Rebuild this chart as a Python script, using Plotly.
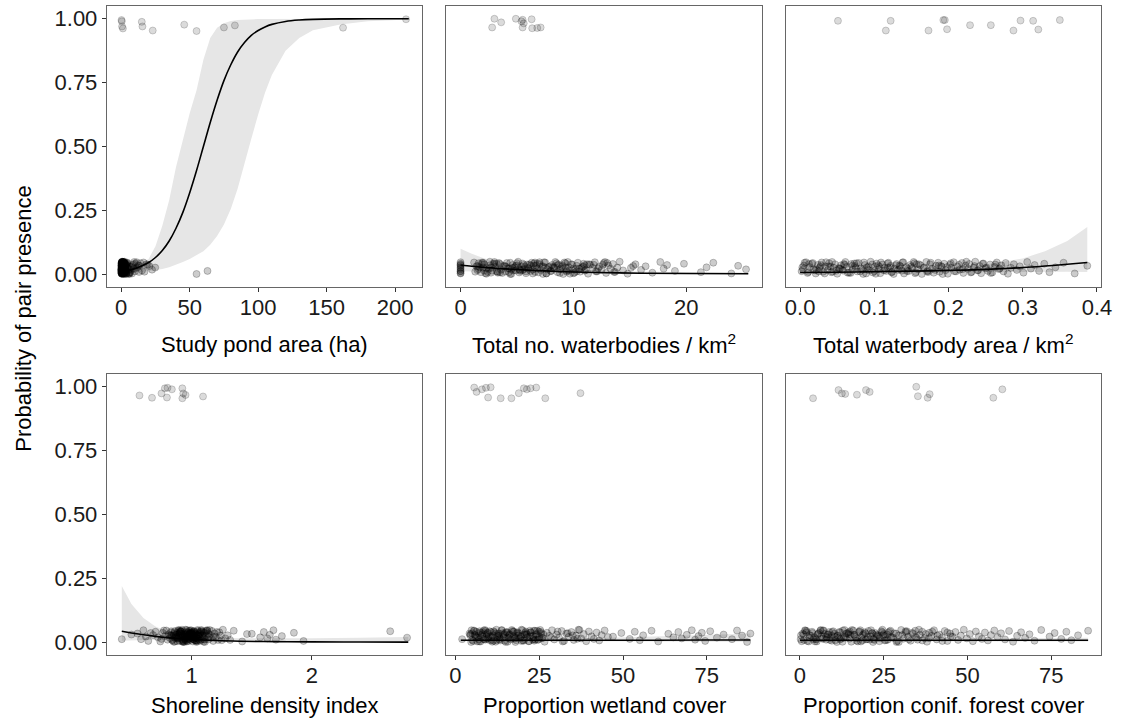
import plotly.graph_objects as go

FONT = "Liberation Sans, Arial, sans-serif"

# ---------------- data ----------------
# vertical jitter of absent (0) observations
ABS_Y = [
    0.012, 0.034, 0.047, 0.005, 0.028, 0.041, 0.019, 0.003, 0.037, 0.024,
    0.046, 0.010, 0.031, 0.016, 0.043, 0.008, 0.026, 0.039, 0.002, 0.021,
    0.035, 0.014, 0.048, 0.029, 0.006, 0.040, 0.018, 0.032, 0.011, 0.044,
    0.023, 0.001, 0.036, 0.027, 0.015, 0.049, 0.007, 0.030, 0.042, 0.020,
    0.004, 0.038, 0.025, 0.013, 0.045, 0.033, 0.009, 0.022, 0.040, 0.017,
    0.031, 0.046, 0.003, 0.028, 0.012, 0.036, 0.024, 0.043, 0.008, 0.019,
    0.035, 0.001, 0.027, 0.048, 0.014, 0.039, 0.022, 0.006, 0.033, 0.045,
    0.010, 0.029, 0.041, 0.016, 0.002, 0.037, 0.025, 0.047, 0.011, 0.030,
    0.018, 0.044, 0.005, 0.034, 0.021, 0.040, 0.009, 0.026, 0.049, 0.015,
    0.032, 0.004, 0.042, 0.023, 0.013, 0.038, 0.007, 0.028, 0.046, 0.020,
    0.035, 0.011, 0.044, 0.002, 0.025, 0.039, 0.017, 0.031, 0.006, 0.048,
    0.022, 0.036, 0.013, 0.041, 0.008, 0.027, 0.045, 0.003, 0.033, 0.019,
    0.040, 0.015, 0.029, 0.047, 0.010, 0.024, 0.037, 0.005, 0.043, 0.018,
    0.030, 0.012, 0.046, 0.026, 0.001, 0.034, 0.021, 0.039, 0.009, 0.032,
]
ABS_Y2 = [
    0.027, 0.009, 0.044, 0.018, 0.036, 0.003, 0.031, 0.048, 0.014, 0.022,
    0.040, 0.006, 0.033, 0.025, 0.011, 0.046, 0.019, 0.038, 0.002, 0.029,
    0.015, 0.042, 0.008, 0.035, 0.021, 0.047, 0.013, 0.030, 0.004, 0.039,
    0.024, 0.010, 0.045, 0.017, 0.034, 0.001, 0.028, 0.043, 0.012, 0.037,
    0.020, 0.049, 0.007, 0.032, 0.016, 0.041, 0.026, 0.005, 0.038, 0.023,
    0.045, 0.011, 0.030, 0.018, 0.042, 0.003, 0.035, 0.027, 0.014, 0.048,
]

# Panel 1: study pond area (ha)
P1_ABS_X = [
    0.1, 0.3, 0.5, 0.2, 0.8, 1.1, 0.4, 1.6, 0.6, 2.0,
    0.9, 0.2, 1.3, 0.7, 2.4, 0.1, 1.0, 1.8, 0.5, 3.1,
    0.3, 1.2, 0.8, 2.7, 0.4, 1.5, 0.6, 2.2, 0.9, 0.2,
    1.4, 3.5, 0.7, 1.9, 0.1, 1.1, 2.5, 0.5, 4.0, 0.3,
    1.7, 0.8, 2.9, 0.6, 1.2, 0.2, 3.8, 1.0, 0.4, 2.1,
    0.9, 1.6, 0.3, 4.4, 0.7, 1.3, 2.6, 0.5, 1.8, 0.1,
    3.3, 0.8, 1.4, 0.6, 2.3, 0.2, 4.8, 1.0, 0.4, 1.9,
    0.7, 2.8, 1.2, 0.3, 3.6, 0.9, 1.5, 0.5, 2.0, 0.1,
    1.1, 4.2, 0.6, 1.7, 0.2, 3.0, 0.8, 1.3, 2.4, 0.4,
    5.0, 1.0, 0.7, 2.2, 1.6, 0.3, 3.9, 0.9, 1.4, 0.5,
    2.7, 1.2, 0.6, 5.5, 0.8, 1.8, 7.2, 2.9, 6.1, 9.5,
    1.1, 8.3, 3.4, 10.6, 6.8, 12.0, 4.6, 7.9, 13.5, 5.8,
    9.1, 15.2, 6.4, 11.3, 17.0, 8.7, 19.4, 5.2, 14.1, 22.5,
    7.5, 10.1, 16.3, 24.8, 6.0, 12.7, 9.8, 18.5, 13.0, 20.6,
]
P1_ABS_X2 = [
    0.15, 0.45, 0.75, 1.05, 1.35, 1.65, 1.95, 2.25, 2.55, 2.85,
    0.25, 0.55, 0.85, 1.15, 1.45, 1.75, 2.05, 2.35, 2.65, 3.15,
    0.05, 0.35, 0.65, 0.95, 1.25, 1.55, 1.85, 2.15, 2.45, 3.45,
    0.12, 0.42, 0.72, 1.02, 1.32, 1.62, 1.92, 2.32, 2.75, 3.7,
    0.18, 0.48, 0.78, 1.08, 1.38, 1.68, 1.98, 0.28, 0.58, 0.88,
    0.22, 0.52, 0.82, 1.12, 1.42, 0.08, 0.38, 0.68, 0.98, 1.28,
]
P1_EXTRA_X = [55.0, 63.0]
P1_EXTRA_Y = [0.001, 0.013]
P1_PRES_X = [0.2, 0.4, 0.6, 1.2, 15.0, 15.5, 23.0, 46.0, 55.0, 75.0, 83.0, 162.0, 208.0]
P1_PRES_Y = [0.995, 0.990, 0.970, 0.962, 0.988, 0.970, 0.954, 0.977, 0.952, 0.966, 0.974, 0.965, 0.998]
P1_CX = [0, 10, 20, 25, 30, 35, 40, 45, 50, 55, 60, 65, 70, 75, 80, 85, 90, 95, 100,
         105, 110, 120, 130, 140, 160, 180, 210]
P1_FIT = [0.0104, 0.0219, 0.0457, 0.0654, 0.0928, 0.130, 0.180, 0.242, 0.319, 0.406,
          0.500, 0.594, 0.681, 0.758, 0.820, 0.870, 0.907, 0.935, 0.954, 0.968,
          0.978, 0.9896, 0.9951, 0.9977, 0.9995, 0.9999, 1.0]
P1_HI = [0.02, 0.03, 0.06, 0.11, 0.19, 0.29, 0.42, 0.53, 0.63, 0.72, 0.84, 0.925,
         0.965, 0.982, 0.991, 0.995, 0.997, 0.998, 0.999, 0.9995, 0.9997, 0.9999,
         1.0, 1.0, 1.0, 1.0, 1.0]
P1_LO = [0.004, 0.008, 0.012, 0.015, 0.02, 0.027, 0.037, 0.048, 0.06, 0.074, 0.09,
         0.115, 0.15, 0.195, 0.255, 0.335, 0.43, 0.53, 0.625, 0.71, 0.78, 0.875, 0.925,
         0.955, 0.978, 0.99, 0.997]

# Panel 2: total no. waterbodies / km2
P2_ABS_X = [
    0, 0, 0, 0, 0, 0, 0, 0, 0, 0,
    1.2, 1.3, 1.4, 1.5, 1.6, 1.8, 2.0, 2.1, 2.3, 2.5,
    2.6, 2.8, 3.0, 3.1, 3.3, 3.5, 3.6, 3.8, 4.0, 4.1,
    4.3, 4.4, 4.6, 4.8, 4.9, 5.1, 5.2, 5.4, 5.5, 5.6,
    5.8, 5.9, 6.0, 6.2, 6.3, 6.5, 6.6, 6.8, 7.0, 7.1,
    7.3, 7.5, 7.6, 7.8, 8.0, 8.1, 8.3, 8.5, 8.6, 8.8,
    9.0, 9.1, 9.3, 9.5, 9.6, 9.8, 10.0, 10.1, 10.3, 10.4,
    10.6, 10.8, 10.9, 11.1, 11.3, 11.5, 11.7, 11.9, 12.1, 12.3,
    12.5, 12.7, 12.9, 13.1, 13.3, 13.5, 13.7, 13.9, 14.1, 14.4,
    1.5, 2.2, 3.2, 4.2, 5.3, 6.1, 6.9, 8.2, 9.2, 10.2,
    11.0, 12.0, 13.0, 14.8, 15.1, 15.5, 16.0, 16.4, 17.0, 17.7,
    18.0, 18.3, 19.0, 19.8, 21.3, 21.8, 22.4, 24.0, 24.6, 25.3,
    2.9, 4.7, 5.7, 7.4, 9.4, 10.7, 12.6, 3.7, 5.0, 6.4,
    7.9, 0.0, 1.9, 2.7, 4.5, 6.7, 8.9, 11.2, 13.6, 15.3,
]
P2_ABS_X2 = [
    1.7, 2.4, 3.4, 4.5, 5.6, 6.4, 7.2, 8.4, 9.4, 10.5,
    1.9, 2.7, 3.9, 4.6, 5.8, 6.6, 7.7, 8.7, 9.7, 10.9,
    2.1, 3.0, 4.3, 5.0, 6.0, 7.0, 8.0, 9.0, 10.0, 11.4,
    2.3, 3.3, 4.4, 5.3, 6.2, 7.3, 8.3, 9.3, 10.3, 11.8,
    1.6, 2.6, 3.5, 4.9, 5.5, 6.8, 7.5, 8.8, 9.9, 12.2,
    2.0, 3.2, 4.0, 5.2, 6.5, 7.6, 8.6, 9.6, 11.0, 12.8,
]
P2_PRES_X = [2.8, 3.0, 3.6, 4.9, 5.4, 5.5, 5.6, 5.5, 6.3, 6.35, 6.8, 7.1]
P2_PRES_Y = [0.966, 1.000, 0.986, 1.000, 0.990, 0.996, 0.982, 0.966, 0.998, 0.963, 0.964, 0.966]
P2_CX = [0, 1, 2, 3, 4, 6, 8, 10, 13, 16, 20, 25.5]
P2_FIT = [0.036, 0.031, 0.027, 0.024, 0.021, 0.016, 0.012, 0.009, 0.006, 0.004, 0.003, 0.002]
P2_HI = [0.10, 0.08, 0.064, 0.052, 0.044, 0.032, 0.024, 0.018, 0.013, 0.010, 0.008, 0.006]
P2_LO = [0.012, 0.012, 0.011, 0.011, 0.010, 0.008, 0.006, 0.0045, 0.003, 0.0018, 0.001, 0.0005]

# Panel 3: total waterbody area / km2
P3_ABS_X = [
    0.002, 0.005, 0.008, 0.010, 0.013, 0.016, 0.018, 0.021, 0.024, 0.026,
    0.029, 0.031, 0.034, 0.037, 0.039, 0.042, 0.045, 0.047, 0.050, 0.053,
    0.055, 0.058, 0.061, 0.063, 0.066, 0.069, 0.071, 0.074, 0.077, 0.079,
    0.082, 0.085, 0.087, 0.090, 0.093, 0.095, 0.098, 0.101, 0.103, 0.106,
    0.108, 0.111, 0.114, 0.116, 0.119, 0.122, 0.124, 0.127, 0.130, 0.132,
    0.135, 0.138, 0.140, 0.143, 0.146, 0.148, 0.151, 0.154, 0.156, 0.159,
    0.162, 0.164, 0.167, 0.170, 0.172, 0.175, 0.178, 0.180, 0.183, 0.186,
    0.188, 0.191, 0.194, 0.196, 0.199, 0.202, 0.204, 0.207, 0.210, 0.212,
    0.215, 0.218, 0.220, 0.223, 0.226, 0.228, 0.231, 0.234, 0.236, 0.239,
    0.242, 0.244, 0.247, 0.250, 0.253, 0.256, 0.259, 0.262, 0.265, 0.268,
    0.271, 0.274, 0.277, 0.280, 0.284, 0.288, 0.292, 0.296, 0.301, 0.306,
    0.311, 0.316, 0.322, 0.329, 0.336, 0.344, 0.355, 0.370, 0.387, 0.004,
    0.012, 0.020, 0.027, 0.035, 0.044, 0.052, 0.060, 0.068, 0.076, 0.084,
    0.092, 0.100, 0.109, 0.118, 0.126, 0.134, 0.145, 0.157, 0.173, 0.190,
]
P3_ABS_X2 = [
    0.003, 0.011, 0.017, 0.022, 0.028, 0.033, 0.038, 0.043, 0.049, 0.054,
    0.059, 0.064, 0.070, 0.075, 0.081, 0.086, 0.091, 0.097, 0.102, 0.107,
    0.113, 0.118, 0.123, 0.129, 0.134, 0.139, 0.144, 0.150, 0.155, 0.160,
    0.166, 0.171, 0.176, 0.182, 0.187, 0.192, 0.198, 0.203, 0.208, 0.214,
    0.219, 0.224, 0.230, 0.235, 0.240, 0.246, 0.251, 0.257, 0.263, 0.269,
    0.006, 0.025, 0.041, 0.057, 0.073, 0.089, 0.105, 0.121, 0.137, 0.153,
]
P3_PRES_X = [0.051, 0.1155, 0.122, 0.173, 0.193, 0.195, 0.198, 0.229, 0.257, 0.2875,
             0.297, 0.314, 0.321, 0.350]
P3_PRES_Y = [0.992, 0.954, 0.992, 0.954, 0.995, 0.995, 0.959, 0.975, 0.975, 0.954,
             0.993, 0.992, 0.958, 0.995]
P3_CX = [0, 0.05, 0.1, 0.15, 0.2, 0.25, 0.3, 0.33, 0.36, 0.387]
P3_FIT = [0.007, 0.008, 0.010, 0.012, 0.015, 0.019, 0.026, 0.032, 0.039, 0.046]
P3_HI = [0.012, 0.013, 0.015, 0.019, 0.026, 0.038, 0.062, 0.090, 0.130, 0.185]
P3_LO = [0.004, 0.005, 0.006, 0.007, 0.008, 0.009, 0.0095, 0.0095, 0.0095, 0.009]

# Panel 4: shoreline density index
P4_ABS_X = [
    0.42, 0.55, 0.60, 0.64, 0.68, 0.70, 0.72, 0.74, 0.76, 0.78,
    0.79, 0.80, 0.81, 0.82, 0.83, 0.84, 0.85, 0.86, 0.86, 0.87,
    0.88, 0.88, 0.89, 0.89, 0.90, 0.90, 0.91, 0.91, 0.92, 0.92,
    0.93, 0.93, 0.94, 0.94, 0.95, 0.95, 0.95, 0.96, 0.96, 0.96,
    0.97, 0.97, 0.97, 0.98, 0.98, 0.98, 0.99, 0.99, 0.99, 1.00,
    1.00, 1.00, 1.01, 1.01, 1.01, 1.02, 1.02, 1.02, 1.03, 1.03,
    1.03, 1.04, 1.04, 1.05, 1.05, 1.06, 1.06, 1.07, 1.07, 1.08,
    1.08, 1.09, 1.09, 1.10, 1.10, 1.11, 1.12, 1.13, 1.14, 1.15,
    1.16, 1.17, 1.18, 1.19, 1.20, 1.21, 1.22, 1.24, 1.26, 1.28,
    0.85, 0.88, 0.91, 0.94, 0.97, 1.00, 1.03, 1.06, 0.90, 0.95,
    0.99, 1.02, 1.05, 0.93, 0.96, 1.01, 0.87, 0.92, 1.04, 1.08,
    0.62, 0.66, 0.75, 1.12, 1.25, 1.30, 1.35, 1.42, 1.50, 1.57,
    1.60, 1.63, 1.65, 1.68, 1.70, 1.75, 1.85, 1.93, 2.65, 2.79,
    0.50, 0.58, 0.77, 0.83, 1.11, 1.14, 1.18, 1.23, 1.32, 1.46,
]
P4_ABS_X2 = [
    0.82, 0.84, 0.86, 0.88, 0.90, 0.92, 0.94, 0.96, 0.98, 1.00,
    1.02, 1.04, 1.06, 1.08, 1.10, 1.12, 1.14, 0.83, 0.85, 0.87,
    0.89, 0.91, 0.93, 0.95, 0.97, 0.99, 1.01, 1.03, 1.05, 1.07,
    1.09, 1.11, 1.13, 0.86, 0.90, 0.94, 0.98, 1.02, 1.06, 1.10,
    0.88, 0.92, 0.96, 1.00, 1.04, 1.08, 0.84, 0.93, 0.97, 1.01,
    0.89, 0.95, 0.99, 1.03, 0.91, 0.96, 1.00, 1.05, 0.94, 1.15,
]
P4_PRES_X = [0.567, 0.671, 0.75, 0.778, 0.80, 0.795, 0.836, 0.923, 0.931, 0.923, 0.95, 1.095]
P4_PRES_Y = [0.966, 0.957, 0.974, 0.994, 0.996, 0.958, 0.990, 0.994, 0.974, 0.955, 0.968, 0.962]
P4_CX = [0.42, 0.5, 0.6, 0.7, 0.8, 0.9, 1.0, 1.2, 1.4, 1.7, 2.0, 2.4, 2.8]
P4_FIT = [0.043, 0.036, 0.029, 0.023, 0.018, 0.014, 0.011, 0.0065, 0.004, 0.0022, 0.0012,
          0.0006, 0.0003]
P4_HI = [0.22, 0.15, 0.095, 0.062, 0.042, 0.031, 0.024, 0.018, 0.016, 0.015, 0.016, 0.018, 0.02]
P4_LO = [0.006, 0.008, 0.009, 0.009, 0.009, 0.008, 0.007, 0.004, 0.002, 0.0008, 0.0003,
         0.0001, 0.0]

# Panel 5: proportion wetland cover
P5_ABS_X = [
    2.0, 4.2, 4.8, 5.3, 5.8, 6.2, 6.7, 7.1, 7.6, 8.0,
    8.4, 8.9, 9.3, 9.8, 10.2, 10.7, 11.1, 11.6, 12.0, 12.5,
    12.9, 13.4, 13.8, 14.3, 14.7, 15.2, 15.6, 16.1, 16.5, 17.0,
    17.4, 17.9, 18.3, 18.8, 19.2, 19.7, 20.1, 20.6, 21.0, 21.5,
    21.9, 22.4, 22.8, 23.3, 23.7, 24.2, 24.6, 25.1, 25.5, 26.0,
    4.5, 5.5, 6.5, 7.4, 8.6, 9.5, 10.5, 11.4, 12.3, 13.2,
    14.1, 15.0, 16.0, 16.8, 17.7, 18.6, 19.5, 20.4, 21.3, 22.2,
    23.1, 24.0, 24.9, 25.8, 26.6, 27.3, 28.0, 28.8, 29.5, 30.2,
    30.9, 31.7, 32.4, 33.1, 33.8, 34.6, 35.3, 36.0, 36.7, 37.5,
    38.3, 39.0, 39.8, 40.6, 41.3, 42.1, 42.9, 43.6, 44.5, 45.5,
    5.0, 7.0, 9.0, 11.0, 13.0, 15.5, 18.0, 20.8, 23.5, 25.3,
    47.0, 49.5, 52.0, 53.5, 55.0, 56.0, 58.5, 60.5, 63.5, 65.0,
    66.5, 67.5, 69.0, 70.5, 71.5, 72.5, 73.5, 74.5, 76.0, 78.0,
    80.0, 82.5, 84.0, 85.5, 87.0, 88.0, 6.0, 8.2, 10.0, 12.8,
]
P5_ABS_X2 = [
    4.4, 5.0, 5.6, 6.3, 6.9, 7.5, 8.1, 8.8, 9.4, 10.0,
    10.6, 11.3, 11.9, 12.5, 13.1, 13.8, 14.4, 15.0, 15.6, 16.3,
    16.9, 17.5, 18.1, 18.8, 19.4, 20.0, 20.6, 21.3, 21.9, 22.5,
    23.1, 23.8, 24.4, 25.0, 25.6, 4.7, 5.9, 7.2, 8.4, 9.7,
    10.9, 12.2, 13.4, 14.7, 15.9, 17.2, 18.4, 19.7, 20.9, 22.2,
    23.4, 24.7, 26.3, 28.5, 30.5, 32.0, 33.5, 35.0, 36.4, 37.0,
]
P5_PRES_X = [5.6, 6.3, 7.9, 9.1, 10.5, 9.75, 13.5, 16.7, 18.9, 20.4, 21.3, 22.4, 24.1, 26.8, 37.3]
P5_PRES_Y = [0.997, 0.980, 0.990, 0.996, 0.998, 0.958, 0.955, 0.955, 0.975, 0.994, 0.990,
             0.994, 0.997, 0.955, 0.975]
P5_CX = [1.6, 20, 40, 60, 75, 88]
P5_FIT = [0.008, 0.008, 0.008, 0.008, 0.009, 0.009]
P5_HI = [0.014, 0.013, 0.016, 0.022, 0.028, 0.034]
P5_LO = [0.004, 0.005, 0.004, 0.003, 0.002, 0.002]

# Panel 6: proportion coniferous forest cover
P6_ABS_X = [
    0.2, 0.8, 1.5, 2.2, 2.9, 3.6, 4.3, 5.0, 5.7, 6.4,
    7.1, 7.8, 8.5, 9.2, 9.9, 10.6, 11.3, 12.0, 12.7, 13.4,
    14.1, 14.8, 15.5, 16.2, 16.9, 17.6, 18.3, 19.0, 19.7, 20.4,
    21.1, 21.8, 22.5, 23.2, 23.9, 24.6, 25.3, 26.0, 26.7, 27.4,
    0.5, 1.9, 3.3, 4.7, 6.1, 7.5, 8.9, 10.3, 11.7, 13.1,
    14.5, 15.9, 17.3, 18.7, 20.1, 21.5, 22.9, 24.3, 25.7, 27.1,
    28.1, 28.8, 29.5, 30.2, 30.9, 31.6, 32.3, 33.0, 33.7, 34.4,
    35.1, 35.8, 36.5, 37.2, 37.9, 38.6, 39.3, 40.0, 40.8, 41.6,
    42.4, 43.2, 44.0, 44.8, 45.6, 46.4, 47.2, 48.0, 48.9, 49.8,
    50.7, 51.6, 52.5, 53.4, 54.3, 55.2, 56.1, 57.0, 58.0, 59.0,
    60.0, 61.2, 62.4, 63.6, 64.8, 66.0, 67.2, 68.5, 70.0, 72.0,
    74.5, 76.0, 78.0, 79.5, 81.0, 83.0, 86.0, 2.6, 5.4, 8.1,
    9.6, 12.3, 15.1, 18.0, 20.8, 23.6, 26.4, 29.0, 31.9, 34.8,
    1.1, 4.0, 6.8, 9.5, 11.0, 13.8, 16.6, 19.3, 22.2, 25.0,
]
P6_ABS_X2 = [
    0.3, 1.2, 2.0, 2.8, 3.7, 4.5, 5.3, 6.2, 7.0, 7.8,
    8.7, 9.5, 10.3, 11.2, 12.0, 12.8, 13.7, 14.5, 15.3, 16.2,
    17.0, 17.8, 18.7, 19.5, 20.3, 21.2, 22.0, 22.8, 23.7, 24.5,
    25.3, 26.2, 27.0, 27.8, 28.7, 29.5, 30.5, 31.5, 32.5, 33.5,
    34.5, 35.5, 36.5, 37.5, 38.5, 39.5, 41.0, 42.5, 44.0, 45.0,
    1.6, 4.9, 8.2, 11.6, 14.9, 18.2, 21.6, 24.9, 6.6, 13.3,
]
P6_PRES_X = [3.9, 11.5, 12.5, 13.5, 17.0, 19.7, 20.8, 34.7, 35.2, 38.1, 38.7, 57.7, 60.4]
P6_PRES_Y = [0.955, 0.987, 0.974, 0.972, 0.969, 0.987, 0.980, 1.000, 0.963, 0.957, 0.971,
             0.957, 0.990]
P6_CX = [0, 20, 40, 60, 86]
P6_FIT = [0.008, 0.008, 0.008, 0.008, 0.008]
P6_HI = [0.013, 0.011, 0.012, 0.014, 0.018]
P6_LO = [0.004, 0.005, 0.005, 0.004, 0.003]

X_TITLES = [
    "Study pond area (ha)",
    "Total no. waterbodies / km<sup>2</sup>",
    "Total waterbody area / km<sup>2</sup>",
    "Shoreline density index",
    "Proportion wetland cover",
    "Proportion conif. forest cover",
]
X_TICKS = [
    [0, 50, 100, 150, 200],
    [0, 10, 20],
    [0.0, 0.1, 0.2, 0.3, 0.4],
    [1, 2],
    [0, 25, 50, 75],
    [0, 25, 50, 75],
]
X_TICKTEXT = [
    ["0", "50", "100", "150", "200"],
    ["0", "10", "20"],
    ["0.0", "0.1", "0.2", "0.3", "0.4"],
    ["1", "2"],
    ["0", "25", "50", "75"],
    ["0", "25", "50", "75"],
]
X_RANGES = [
    [-10.5, 220.0],
    [-1.27, 26.7],
    [-0.0196, 0.4057],
    [0.296, 2.918],
    [-2.75, 91.4],
    [-4.3, 89.9],
]
Y_TICKS = [0.0, 0.25, 0.5, 0.75, 1.0]
Y_TICKTEXT = ["0.00", "0.25", "0.50", "0.75", "1.00"]
Y_RANGE = [-0.05, 1.05]

PANELS = [
    (P1_ABS_X + P1_ABS_X2 + P1_EXTRA_X, ABS_Y + ABS_Y2 + P1_EXTRA_Y,
     P1_PRES_X, P1_PRES_Y, P1_CX, P1_FIT, P1_LO, P1_HI),
    (P2_ABS_X + P2_ABS_X2, ABS_Y + ABS_Y2, P2_PRES_X, P2_PRES_Y, P2_CX, P2_FIT, P2_LO, P2_HI),
    (P3_ABS_X + P3_ABS_X2, ABS_Y + ABS_Y2, P3_PRES_X, P3_PRES_Y, P3_CX, P3_FIT, P3_LO, P3_HI),
    (P4_ABS_X + P4_ABS_X2, ABS_Y + ABS_Y2, P4_PRES_X, P4_PRES_Y, P4_CX, P4_FIT, P4_LO, P4_HI),
    (P5_ABS_X + P5_ABS_X2, ABS_Y + ABS_Y2, P5_PRES_X, P5_PRES_Y, P5_CX, P5_FIT, P5_LO, P5_HI),
    (P6_ABS_X + P6_ABS_X2, ABS_Y + ABS_Y2, P6_PRES_X, P6_PRES_Y, P6_CX, P6_FIT, P6_LO, P6_HI),
]

# ---------------- layout geometry (pixels) ----------------
W, H = 1129, 721
COLS = [(107, 426), (450, 769), (793, 1112)]
ROWS = [(6, 287), (374, 655)]
FS = 22

fig = go.Figure()

abs_marker = dict(size=7, color="rgba(0,0,0,0.2)",
                  line=dict(color="rgba(0,0,0,0.28)", width=0.8))
pres_marker = dict(size=7, color="rgba(0,0,0,0.14)",
                   line=dict(color="rgba(0,0,0,0.22)", width=0.8))

layout = dict(
    width=W, height=H,
    margin=dict(l=0, r=0, t=0, b=0),
    paper_bgcolor="white", plot_bgcolor="white",
    showlegend=False,
    font=dict(family=FONT, size=FS, color="#1a1a1a"),
)
annotations = []

for i, (ax, ay, px, py, cx, fit, lo, hi) in enumerate(PANELS):
    n = i + 1
    xa = "x" if n == 1 else f"x{n}"
    ya = "y" if n == 1 else f"y{n}"
    r, c = divmod(i, 3)
    x0, x1 = COLS[c]
    y0, y1 = ROWS[r]

    # confidence ribbon
    fig.add_trace(go.Scatter(
        x=list(cx) + list(cx)[::-1], y=list(hi) + list(lo)[::-1],
        fill="toself", fillcolor="#e6e6e6", line=dict(width=0),
        mode="lines", hoverinfo="skip", xaxis=xa, yaxis=ya))
    # absent observations
    fig.add_trace(go.Scatter(
        x=ax, y=ay[:len(ax)], mode="markers", marker=abs_marker,
        xaxis=xa, yaxis=ya))
    # present observations
    fig.add_trace(go.Scatter(
        x=px, y=py, mode="markers", marker=pres_marker,
        xaxis=xa, yaxis=ya))
    # fitted curve
    fig.add_trace(go.Scatter(
        x=cx, y=fit, mode="lines", line=dict(color="black", width=1.6, shape="spline"),
        xaxis=xa, yaxis=ya))

    xkey = "xaxis" if n == 1 else f"xaxis{n}"
    ykey = "yaxis" if n == 1 else f"yaxis{n}"
    layout[xkey] = dict(
        domain=[x0 / W, x1 / W], anchor=ya, range=X_RANGES[i],
        tickmode="array", tickvals=X_TICKS[i], ticktext=X_TICKTEXT[i],
        ticks="outside", ticklen=4, tickwidth=1, tickcolor="#333333",
        ticklabelstandoff=-4,
        showline=True, linecolor="#666666", linewidth=1.2, mirror=True,
        showgrid=False, zeroline=False,
        tickfont=dict(family=FONT, size=FS, color="#1a1a1a"))
    show_y = (c == 0)
    layout[ykey] = dict(
        domain=[1 - y1 / H, 1 - y0 / H], anchor=xa, range=Y_RANGE,
        tickmode="array", tickvals=Y_TICKS, ticktext=Y_TICKTEXT,
        showticklabels=show_y, ticks="outside" if show_y else "",
        ticklen=4, tickwidth=1, tickcolor="#333333",
        showline=True, linecolor="#666666", linewidth=1.2, mirror=True,
        showgrid=False, zeroline=False,
        tickfont=dict(family=FONT, size=FS, color="#1a1a1a"))

    # x-axis title
    ty = 344 if r == 0 else 705
    annotations.append(dict(
        text=X_TITLES[i], x=(x0 + x1) / 2 / W, y=1 - ty / H,
        xref="paper", yref="paper", xanchor="center", yanchor="middle",
        showarrow=False, font=dict(family=FONT, size=FS, color="black")))

annotations.append(dict(
    text="Probability of pair presence", x=22 / W, y=1 - 318 / H,
    xref="paper", yref="paper", xanchor="center", yanchor="middle",
    textangle=-90, showarrow=False, font=dict(family=FONT, size=FS, color="black")))

layout["annotations"] = annotations
fig.update_layout(**layout)

fig.write_html("out.html", config={"displayModeBar": False},
               post_script="document.body.style.margin='0px';")
